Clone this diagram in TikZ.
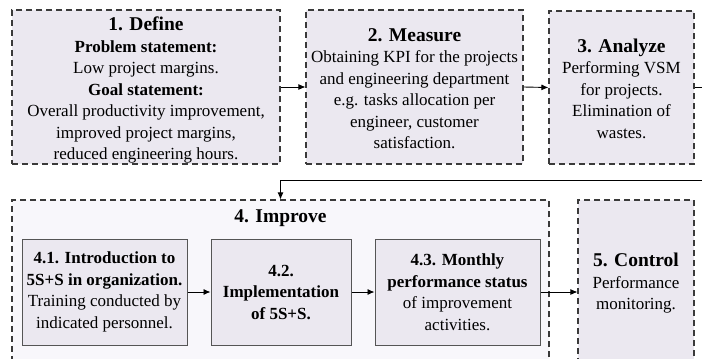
\documentclass[tikz,border=0pt]{standalone}
\usepackage{fontspec}
\setmainfont{Liberation Serif}
\usetikzlibrary{arrows.meta}
\definecolor{boxfill}{HTML}{EBE8F0}
\definecolor{outerfill}{HTML}{F8F7FB}
\definecolor{dashline}{HTML}{3A3A3A}
\definecolor{solidline}{HTML}{555555}
\begin{document}
\begin{tikzpicture}[x=1pt,y=-1pt,
  dbox/.style={draw=dashline, line width=1.1pt, dash pattern=on 6pt off 4pt, fill=boxfill, inner sep=0pt, align=center,
    font=\fontsize{17}{21.5}\selectfont},
  sbox/.style={draw=solidline, line width=1pt, fill=boxfill, inner sep=0pt, align=center,
    minimum height=106pt, font=\fontsize{17}{21.5}\selectfont},
  txt/.style={align=center, inner sep=0pt, font=\fontsize{17}{21.5}\selectfont},
  ttl/.style={font=\fontsize{19.5}{22}\selectfont\bfseries},
  arr/.style={draw=black, line width=0.9pt, -{Latex[length=7pt,width=6pt]}}
]
\useasboundingbox (0,0) rectangle (702,359);
\clip (0,0) rectangle (702,359);
\fill[white] (0,0) rectangle (702,359);

\node[dbox, minimum width=268pt, minimum height=154pt] (b1) at (146,87) {};
\node[txt] (t1) at (146,90)
  {{\fontsize{19.5}{22}\selectfont\bfseries 1. Define}\\
   \textbf{Problem statement:}\\
   Low project margins.\\
   \textbf{Goal statement:}\\
   Overall productivity improvement,\\
   improved project margins,\\
   reduced engineering hours.};

\node[dbox, minimum width=217pt, minimum height=154pt] (b2) at (414.5,87) {};
\node[txt] (t2) at (414.5,88.5)
  {{\fontsize{19.5}{22}\selectfont\bfseries 2. Measure}\\
   Obtaining KPI for the projects\\
   and engineering department\\
   e.g. tasks allocation per\\
   engineer, customer\\
   satisfaction.};

\node[dbox, minimum width=145pt, minimum height=153pt] (b3) at (621.5,87.5) {};
\node[txt] (t3) at (621.5,88.5)
  {{\fontsize{19.5}{22}\selectfont\bfseries 3. Analyze}\\
   Performing VSM\\
   for projects.\\
   Elimination of\\
   wastes.};

\node[dbox, fill=outerfill, minimum width=537pt, minimum height=180pt] (b4) at (280.5,290) {};
\node[ttl] (t4) at (280.5,218) {4. Improve};

\node[dbox, minimum width=116pt, minimum height=180pt] (b5) at (636,290) {};
\node[txt] (t5) at (636,283.5)
  {{\fontsize{19.5}{22}\selectfont\bfseries 5. Control}\\
   Performance\\
   monitoring.};

\node[sbox, minimum width=165pt] (b41) at (104.5,292)
  {\textbf{4.1. Introduction to}\\
   \textbf{5S+S in organization.}\\
   Training conducted by\\
   indicated personnel.};
\node[sbox, minimum width=140pt] (b42) at (281,292)
  {\textbf{4.2.}\\
   \textbf{Implementation}\\
   \textbf{of 5S+S.}};
\node[sbox, minimum width=165pt] (b43) at (457.5,292)
  {\textbf{4.3. Monthly}\\
   \textbf{performance status}\\
   of improvement\\
   activities.};

\coordinate (r2) at (715,180);

\draw[arr] (b1.east) -- (b2.west);
\draw[arr] (b2.east) -- (b3.west);
\draw[arr] (b3.east) -| (r2) -| (b4.north);
\draw[arr] (b41.east) -- (b42.west);
\draw[arr] (b42.east) -- (b43.west);
\draw[arr] (b43.east) -- (b43.east -| b5.west);
\end{tikzpicture}
\end{document}
